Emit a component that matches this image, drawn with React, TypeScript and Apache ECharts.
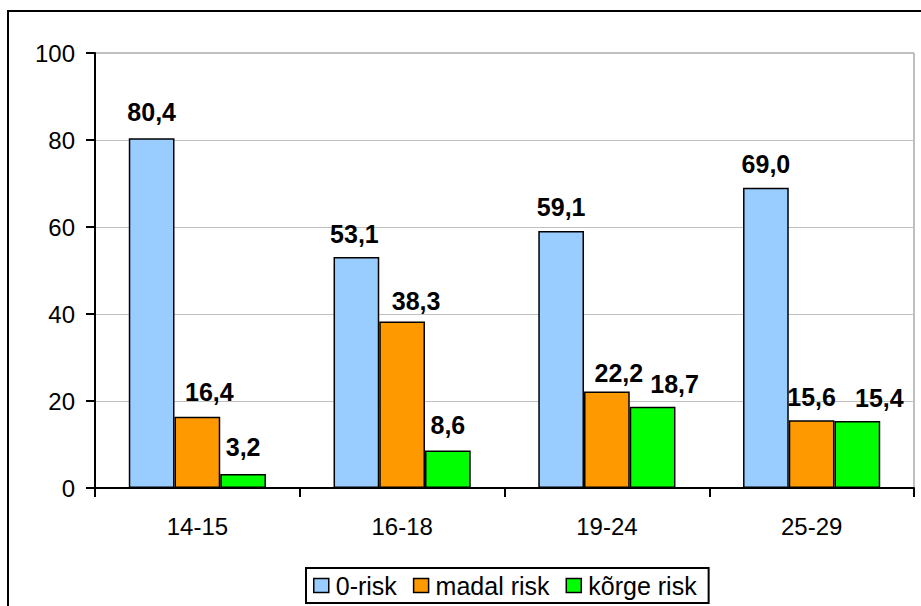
import React, { useEffect, useRef } from "react";
import * as echarts from "echarts";

const categories = ["14-15", "16-18", "19-24", "25-29"];
const seriesNames = ["0-risk", "madal risk", "kõrge risk"];
const zeroRisk = [80.4, 53.1, 59.1, 69.0];
const madalRisk = [16.4, 38.3, 22.2, 15.6];
const korgeRisk = [3.2, 8.6, 18.7, 15.4];
const colors = ["#99CCFF", "#FF9900", "#00FF00"];

// label nudges (layout only) to mimic the original placement
const labelNudges: number[][][] = [
  [[0, -3], [-2, 0], [0, 0], [0, 0]],
  [[12, -1], [14, 3], [12, 5], [0, 0]],
  [[0, -4], [0, -2], [22, 1], [22, 0]],
];

const FONT = "'Liberation Sans', Arial, sans-serif";

export default function App() {
  const ref = useRef<HTMLDivElement>(null);
  useEffect(() => {
    if (!ref.current) return;
    const chart = echarts.init(ref.current, undefined, { renderer: "svg" });
    const data = [zeroRisk, madalRisk, korgeRisk];
    chart.setOption({
      animation: false,
      backgroundColor: "#ffffff",
      textStyle: { fontFamily: FONT },
      graphic: [
        {
          type: "rect",
          shape: { x: 8, y: 11, width: 1000, height: 1000 },
          style: { fill: "none", stroke: "#000", lineWidth: 2 },
          silent: true,
          z: 100,
        },
      ],
      grid: {
        left: 95,
        right: 7,
        top: 53,
        bottom: 118,
        show: true,
        borderColor: "#808080",
        borderWidth: 1,
        containLabel: false,
      },
      legend: {
        bottom: 3,
        left: 306,
        data: seriesNames,
        itemWidth: 15,
        itemHeight: 14,
        itemGap: 16,
        padding: [5, 12, 5, 7],
        borderColor: "#000",
        borderWidth: 2,
        icon: "rect",
        itemStyle: { borderColor: "#000", borderWidth: 1.5 },
        textStyle: { fontSize: 25, color: "#000", fontFamily: FONT, padding: [0, 0, 0, 2] },
      },
      xAxis: {
        type: "category",
        data: categories,
        axisLine: { lineStyle: { color: "#000", width: 2 } },
        axisTick: { show: true, length: 9, lineStyle: { color: "#000", width: 2 } },
        axisLabel: { fontSize: 24, color: "#000", margin: 26, fontFamily: FONT },
        splitLine: { show: false },
      },
      yAxis: {
        type: "value",
        min: 0,
        max: 100,
        interval: 20,
        axisLine: { show: true, lineStyle: { color: "#000", width: 2 } },
        axisTick: { show: true, length: 9, lineStyle: { color: "#000", width: 2 } },
        axisLabel: { fontSize: 24, color: "#000", margin: 20, fontFamily: FONT },
        splitLine: { show: true, lineStyle: { color: "#c0c0c0", width: 1 } },
      },
      series: seriesNames.map((name, i) => ({
        name,
        type: "bar",
        data: data[i].map((v, j) => ({
          value: v,
          label: { offset: labelNudges[i][j] },
        })),
        barGap: "0%",
        barCategoryGap: "33%",
        itemStyle: { color: colors[i], borderColor: "#000", borderWidth: 1.5 },
        label: {
          show: true,
          position: "top",
          distance: 11,
          fontSize: 25,
          fontWeight: "bold",
          color: "#000",
          fontFamily: FONT,
          formatter: (p: any) => Number(p.value).toFixed(1).replace(".", ","),
        },
      })),
    });
    return () => chart.dispose();
  }, []);
  return (
    <div
      ref={ref}
      style={{ position: "fixed", left: 0, top: 0, width: 921, height: 606 }}
    />
  );
}
